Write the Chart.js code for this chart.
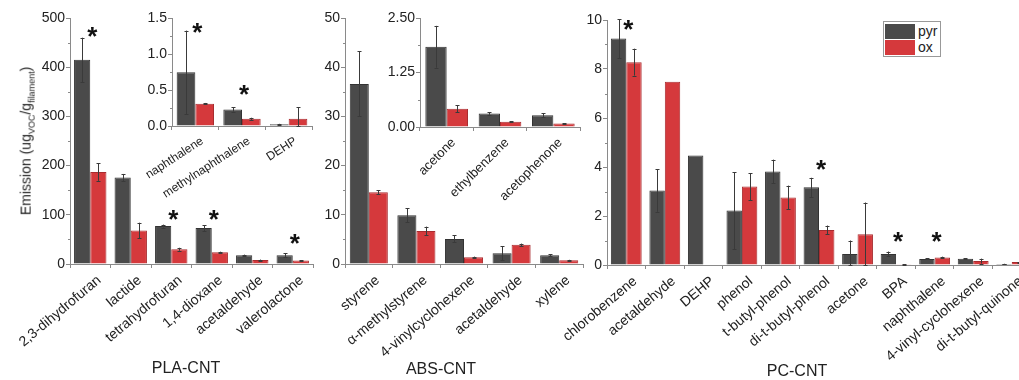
<!DOCTYPE html>
<html>
<head>
<meta charset="utf-8">
<title>VOC emission</title>
<script src="https://cdn.jsdelivr.net/npm/chart.js@4.4.1/dist/chart.umd.min.js"></script>
<style>
  html, body { margin: 0; padding: 0; background: #fff; overflow: hidden; }
  #fig { position: relative; width: 1019px; height: 380px; overflow: hidden;
         font-family: Arial, "Liberation Sans", sans-serif; color: #222; }
  canvas { position: absolute; }
  .ttl { position: absolute; font-size: 16px; transform: translate(-50%, -50%); white-space: nowrap; }
  #ylab { position: absolute; left: 27px; top: 141px; transform: translate(-50%, -50%) rotate(-90deg);
          font-size: 14px; white-space: nowrap; }
  #ylab sub { font-size: 9px; }
  #legend { position: absolute; left: 883px; top: 21px; width: 54px; height: 32px; padding: 1px;
            border: 1px solid #999; background: #fff; font-size: 14px; }
  #legend .row { display: flex; align-items: center; height: 16px; }
  #legend .sw { width: 30px; height: 15px; margin-right: 3px; }
</style>
</head>
<body>
<div id="fig">
  <canvas id="plaMain" width="330" height="380" style="left:0;top:0"></canvas>
  <canvas id="absMain" width="320" height="380" style="left:280px;top:0"></canvas>
  <canvas id="pcMain" width="520" height="380" style="left:530px;top:0"></canvas>
  <canvas id="plaInset" width="180" height="210" style="left:140px;top:0"></canvas>
  <canvas id="absInset" width="210" height="210" style="left:380px;top:0"></canvas>

  <div id="ylab">Emission (ug<sub>VOC</sub>/g<sub>filament</sub>)</div>
  <div class="ttl" style="left:186px;top:368px">PLA-CNT</div>
  <div class="ttl" style="left:441px;top:369px">ABS-CNT</div>
  <div class="ttl" style="left:797px;top:371px">PC-CNT</div>

  <div id="legend">
    <div class="row"><span class="sw" style="background:#4a4a4a"></span>pyr</div>
    <div class="row"><span class="sw" style="background:#d5393c"></span>ox</div>
  </div>
</div>

<script>
// ---- data ----
const plaCats    = ['2,3-dihydrofuran', 'lactide', 'tetrahydrofuran', '1,4-dioxane', 'acetaldehyde', 'valerolactone'];
const plaPyr     = [415, 176, 77, 73, 18, 18];
const plaPyrErr  = [45, 7, 3, 6, 1, 4];
const plaOx      = [187, 68, 30, 24, 8, 7];
const plaOxErr   = [18, 16, 3, 1, 1, 1];
const plaStarIdx = [0, 2, 3, 5];
const plaStarVal = [476, 104, 104, 55];

const plaInCats    = ['naphthalene', 'methylnaphthalene', 'DEHP'];
const plaInPyr     = [0.745, 0.23, 0.025];
const plaInPyrErr  = [0.58, 0.03, 0.005];
const plaInOx      = [0.31, 0.10, 0.10];
const plaInOxErr   = [0.01, 0.015, 0.16];
const plaInStarIdx = [0, 1];
const plaInStarVal = [1.38, 0.525];

const absCats   = ['styrene', 'α-methylstyrene', '4-vinylcyclohexene', 'acetaldehyde', 'xylene'];
const absPyr    = [36.6, 9.9, 5.1, 2.2, 1.8];
const absPyrErr = [6.6, 1.45, 0.7, 1.4, 0.15];
const absOx     = [14.6, 6.7, 1.35, 3.9, 0.75];
const absOxErr  = [0.4, 0.9, 0.15, 0.25, 0.1];

const absInCats   = ['acetone', 'ethylbenzene', 'acetophenone'];
const absInPyr    = [1.84, 0.31, 0.27];
const absInPyrErr = [0.48, 0.03, 0.04];
const absInOx     = [0.42, 0.12, 0.08];
const absInOxErr  = [0.08, 0.015, 0.005];

const pcCats    = ['chlorobenzene', 'acetaldehyde', 'DEHP', 'phenol', 't-butyl-phenol', 'di-t-butyl-phenol',
                   'acetone', 'BPA', 'naphthalene', '4-vinyl-cyclohexene', 'di-t-butyl-quinone'];
const pcPyr     = [9.24, 3.04, 4.47, 2.22, 3.82, 3.17, 0.45, 0.45, 0.25, 0.26, 0.04];
const pcPyrErr  = [0.79, 0.87, 0, 1.57, 0.48, 0.39, 0.55, 0.10, 0.02, 0.02, 0.01];
const pcOx      = [8.28, 7.48, 0.02, 3.20, 2.76, 1.43, 1.26, 0.03, 0.31, 0.16, 0.12];
const pcOxErr   = [0.55, 0, 0, 0.55, 0.48, 0.18, 1.29, 0.01, 0.03, 0.10, 0.02];
const pcStarIdx = [0, 5, 7, 8];
const pcStarVal = [9.88, 4.14, 1.23, 1.23];

// ---- styling ----
const PYR = '#4a4a4a', PYR_EDGE = '#333333';
const OX = '#d5393c', OX_EDGE = '#a82c2f';
const AXIS = '#8a8a8a';

Chart.defaults.font.family = 'Arial, "Liberation Sans", sans-serif';
Chart.defaults.color = '#222';
Chart.defaults.animation = false;

// error bars drawn from each dataset's err array
const errBars = {
  id: 'errBars',
  afterDatasetsDraw(chart) {
    const ctx = chart.ctx, y = chart.scales.y;
    ctx.save();
    ctx.lineWidth = 1;
    chart.data.datasets.forEach((ds, di) => {
      const meta = chart.getDatasetMeta(di);
      meta.data.forEach((bar, i) => {
        const e = ds.err[i];
        if (!e) return;
        const v = ds.data[i];
        const top = y.getPixelForValue(v + e);
        const bot = y.getPixelForValue(Math.max(y.min, v - e));
        const x = Math.round(bar.x) + 0.5;
        ctx.strokeStyle = '#3a3a3a';
        ctx.beginPath();
        ctx.moveTo(x, top); ctx.lineTo(x, bot);
        ctx.moveTo(x - 2, Math.round(top) + 0.5); ctx.lineTo(x + 2, Math.round(top) + 0.5);
        ctx.moveTo(x - 2, Math.round(bot) + 0.5); ctx.lineTo(x + 2, Math.round(bot) + 0.5);
        ctx.stroke();
      });
    });
    ctx.restore();
  }
};

// short minor ticks half way between the major ones
const minorTicks = {
  id: 'minorTicks',
  afterDraw(chart) {
    const y = chart.scales.y, ctx = chart.ctx;
    const left = chart.chartArea.left;
    ctx.save();
    ctx.strokeStyle = AXIS;
    ctx.lineWidth = 1;
    for (let k = 0; k < y.ticks.length - 1; k++) {
      const p = Math.round((y.getPixelForValue(y.ticks[k].value) + y.getPixelForValue(y.ticks[k + 1].value)) / 2) + 0.5;
      ctx.beginPath(); ctx.moveTo(left - 2, p); ctx.lineTo(left, p); ctx.stroke();
    }
    ctx.restore();
  }
};

function makeStars(idx, vals, size) {
  return {
    id: 'stars',
    afterDatasetsDraw(chart) {
      const ctx = chart.ctx, x = chart.scales.x, y = chart.scales.y;
      ctx.save();
      ctx.fillStyle = '#111';
      ctx.font = 'bold ' + size + 'px Arial, "Liberation Sans", sans-serif';
      ctx.textAlign = 'center';
      ctx.textBaseline = 'alphabetic';
      idx.forEach((ci, k) => {
        ctx.fillText('*', x.getPixelForValue(ci) + 2, y.getPixelForValue(vals[k]) + size * 0.57);
      });
      ctx.restore();
    }
  };
}

function yAxis(max, step, width, fontSize, fmt) {
  return {
    min: 0, max: max,
    ticks: { stepSize: step, padding: 1, font: { size: fontSize }, callback: fmt },
    grid: { drawOnChartArea: false, tickLength: 4, color: AXIS },
    border: { color: AXIS },
    afterFit(s) { s.width = width; }
  };
}

function xAxis(height, fontSize, rot, offset) {
  return {
    ticks: { minRotation: rot, maxRotation: rot, autoSkip: false, padding: 4, labelOffset: offset,
             font: { size: fontSize } },
    grid: { drawOnChartArea: false, tickLength: 4, color: AXIS },
    border: { color: AXIS },
    afterFit(s) { s.height = height; s.paddingLeft = 0; s.paddingRight = 0; }
  };
}

function barChart(id, cats, pyr, pyrErr, ox, oxErr, cfg) {
  const plugins = [errBars, minorTicks];
  if (cfg.starIdx) plugins.push(makeStars(cfg.starIdx, cfg.starVal, cfg.starSize || 26));
  return new Chart(document.getElementById(id), {
    type: 'bar',
    data: {
      labels: cats,
      datasets: [
        { label: 'pyr', data: pyr, err: pyrErr, backgroundColor: PYR, borderColor: PYR_EDGE, borderWidth: 1 },
        { label: 'ox', data: ox, err: oxErr, backgroundColor: OX, borderColor: OX_EDGE, borderWidth: 1 }
      ]
    },
    options: {
      responsive: false,
      devicePixelRatio: 1,
      datasets: { bar: { categoryPercentage: 0.8, barPercentage: 1.0 } },
      layout: { padding: { top: cfg.top, right: cfg.right, left: 0, bottom: 0 } },
      plugins: { legend: { display: false }, tooltip: { enabled: false } },
      scales: {
        x: xAxis(cfg.xHeight, cfg.xFont, cfg.rot, cfg.offset),
        y: yAxis(cfg.max, cfg.step, cfg.yWidth, cfg.yFont, cfg.fmt)
      }
    },
    plugins: plugins
  });
}

// ---- main panels ----
barChart('plaMain', plaCats, plaPyr, plaPyrErr, plaOx, plaOxErr, {
  top: 18, right: 17, xHeight: 116, yWidth: 70, max: 500, step: 100, xFont: 14, yFont: 14,
  rot: 40, offset: 9, starIdx: plaStarIdx, starVal: plaStarVal
});

barChart('absMain', absCats, absPyr, absPyrErr, absOx, absOxErr, {
  top: 18, right: 17, xHeight: 116, yWidth: 65, max: 50, step: 10, xFont: 14, yFont: 14,
  rot: 40, offset: 9
});

barChart('pcMain', pcCats, pcPyr, pcPyrErr, pcOx, pcOxErr, {
  top: 20, right: 19, xHeight: 115, yWidth: 77, max: 10, step: 2, xFont: 14, yFont: 14,
  rot: 40, offset: 9, starIdx: pcStarIdx, starVal: pcStarVal
});

// ---- insets ----
barChart('plaInset', plaInCats, plaInPyr, plaInPyrErr, plaInOx, plaInOxErr, {
  top: 18, right: 8, xHeight: 84, yWidth: 32, max: 1.5, step: 0.5, xFont: 12, yFont: 14,
  rot: 33, offset: 7, fmt: v => v.toFixed(1), starIdx: plaInStarIdx, starVal: plaInStarVal
});

barChart('absInset', absInCats, absInPyr, absInPyrErr, absInOx, absInOxErr, {
  top: 18, right: 10, xHeight: 83, yWidth: 40, max: 2.5, step: 1.25, xFont: 13, yFont: 14,
  rot: 45, offset: 7, fmt: v => v.toFixed(2)
});
</script>
</body>
</html>
